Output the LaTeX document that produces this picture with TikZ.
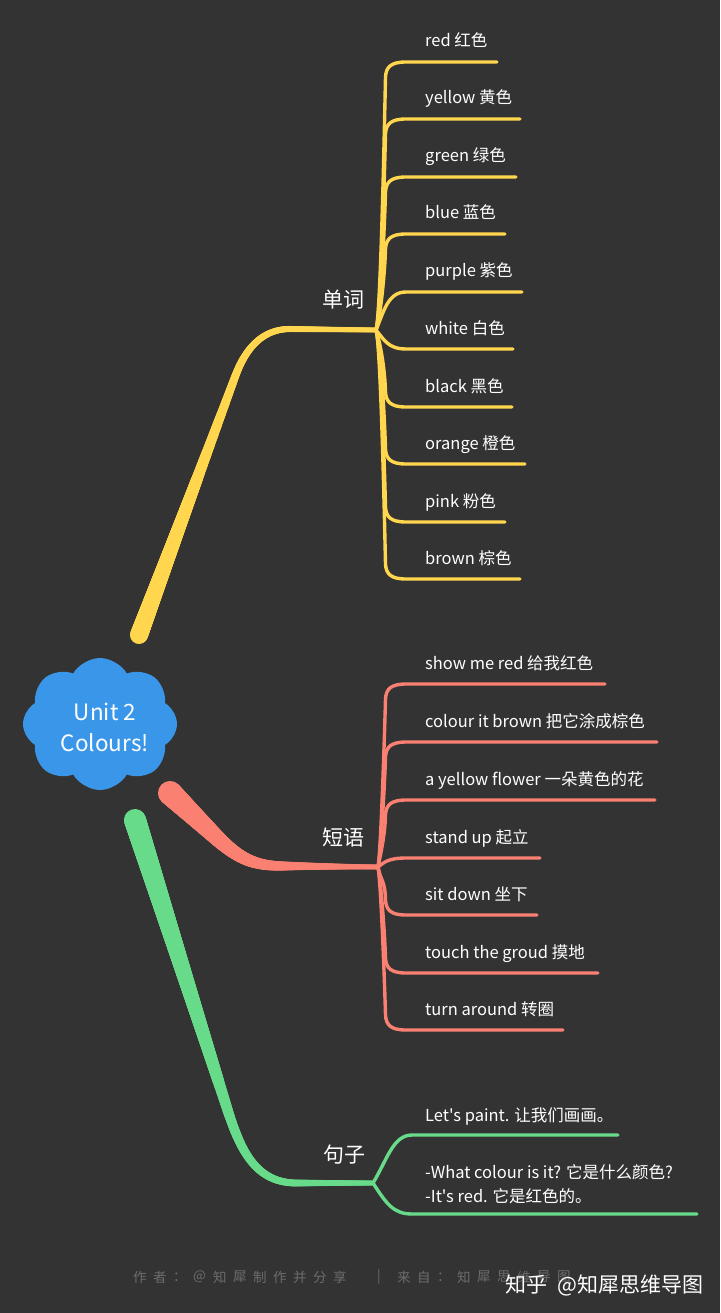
\documentclass[tikz,border=0pt]{standalone}
\usepackage{fontspec}
\setmainfont{Noto Sans CJK SC}
\newfontfamily\cjkf{Noto Sans CJK SC}
\usetikzlibrary{shapes.symbols,decorations.markings}
\definecolor{bg}{RGB}{51,51,51}
\definecolor{cy}{RGB}{255,214,77}
\definecolor{cs}{RGB}{250,128,114}
\definecolor{cg}{RGB}{104,219,138}
\definecolor{cb}{RGB}{58,150,232}
\definecolor{wm}{RGB}{108,108,108}
\tikzset{
  taper/.style n args={4}{decorate, decoration={markings,
    mark=between positions 0 and 1 step 0.7pt with {
      \pgfmathsetmacro\tf{max(0.0001,1-\pgfkeysvalueof{/pgf/decoration/mark info/distance from start}/\pgfdecoratedpathlength)}
      \pgfmathsetmacro\tr{(#2+(#1-#2)*pow(\tf,#3))/2}
      \fill[#4] (0pt,0pt) circle[radius=\tr pt];
    }}},
  leafy/.style={draw=cy, line width=3.4pt, line cap=round},
  leafs/.style={draw=cs, line width=3.4pt, line cap=round},
  leafg/.style={draw=cg, line width=3.4pt, line cap=round},
  leaftext/.style={text=white, inner sep=0pt, anchor=base west, font=\cjkf\fontsize{16.5}{20}\selectfont},
  cattext/.style={text=white, inner sep=0pt, font=\cjkf\fontsize{21}{24}\selectfont},
  roottext/.style={text=white, inner sep=0pt, font=\cjkf\fontsize{22.5}{26}\selectfont},
  wmtext/.style={text=wm, inner sep=0pt, anchor=west, font=\cjkf\fontsize{13.5}{16}\selectfont},
  zhtext/.style={text=white, inner sep=0pt, anchor=west, font=\cjkf\fontsize{21}{24}\selectfont},
}
\newcommand\myleaf[6]{%
  \coordinate (#6) at (#5,#4);
  \pgfmathsetmacro\ld{abs(#4-#3)}%
  \pgfmathsetmacro\ls{sign(#4-#3)}%
  \ifdim\ld pt<40pt
    \draw[#1] (#2) .. controls (384,{#3+\ls*\ld*0.5}) and (388,#4) .. (406,#4) -- (#6);
  \else
    \draw[#1] (#2) .. controls (381,{#3+\ls*15}) and (385,{#4-\ls*35}) .. (385.5,{#4-\ls*15}) .. controls (386,{#4-\ls*5}) and (391,#4) .. (406,#4) -- (#6);
  \fi
}
\begin{document}
\begin{tikzpicture}[x=1pt,y=-1pt]
\fill[bg] (0,0) rectangle (720,1313);
\useasboundingbox (0,0) rectangle (720,1313);

\coordinate (yS) at (139,635);
\coordinate (hubY) at (376,330);
\coordinate (sS) at (170,793);
\coordinate (hubS) at (378,867);
\coordinate (gS) at (135,820);
\coordinate (hubG) at (373,1183);

% main tapered branches
\path[taper={18}{5}{1.5}{cy}] (yS) -- (235,377) .. controls (244,352) and (260,329) .. (290,329) -- (hubY);
\path[taper={24}{5}{1.7}{cs}] (sS) -- (215,836) .. controls (240,860) and (255,866) .. (285,866) -- (hubS);
\path[taper={22}{5}{1.2}{cg}] (gS) -- (226,1105) .. controls (240,1150) and (255,1182) .. (295,1183) -- (hubG);

% yellow leaves
\foreach \y/\xe/\t [count=\i] in {62/497/red 红色, 119/520/yellow 黄色, 177/516/green 绿色, 234/505/blue 蓝色, 292/522/purple 紫色, 349/513/white 白色, 407/512/black 黑色, 464/525/orange 橙色, 522/505/pink 粉色, 579/520/brown 棕色}{
  \myleaf{leafy}{hubY}{330}{\y}{\xe}{ye\i}
  \node[leaftext] (yt\i) at (425,{\y-15}) {\t};
}

% salmon leaves
\foreach \y/\xe/\t [count=\i] in {684/605/show me red 给我红色, 742/657/colour it brown 把它涂成棕色, 800/655/a yellow flower 一朵黄色的花, 858/540/stand up 起立, 915/537/sit down 坐下, 973/598/touch the groud 摸地, 1030/563/turn around 转圈}{
  \myleaf{leafs}{hubS}{867}{\y}{\xe}{se\i}
  \node[leaftext] (st\i) at (425,{\y-15}) {\t};
}

% green leaves
\coordinate (gE1) at (618,1135);
\coordinate (gE2) at (697,1214);
\draw[leafg] (hubG) .. controls (387,1160) and (393,1135) .. (412,1135) -- (gE1);
\draw[leafg] (hubG) .. controls (386,1203) and (393,1214) .. (412,1214) -- (gE2);
\node[leaftext] (gt1) at (425,1121) {Let's paint. 让我们画画。};
\node[leaftext] (gt2) at (425,1178) {-What colour is it? 它是什么颜色?};
\node[leaftext] (gt3) at (425,1202) {-It's red. 它是红色的。};

% category labels
\node[cattext] (cat1) at (343,300) {单词};
\node[cattext] (cat2) at (343,838) {短语};
\node[cattext] (cat3) at (344,1155) {句子};

% root cloud
\node[cloud, cloud puffs=8, cloud puff arc=120, aspect=1.15, fill=cb, draw=none,
      minimum width=154pt, minimum height=132pt, inner sep=0pt] (root) at (100,724) {};
\node[roottext] (r1) at (105,712) {Unit 2};
\node[roottext] (r2) at (105,743) {Colours!};

% watermark
\foreach \c [count=\i from 0] in {作,者,：,@,知,犀,制,作,并,分,享}{
  \node[wmtext] (wa\i) at ({133+20*\i},1277) {\c};
}
\node[wmtext, anchor=center] (wbar) at (379,1277) {|};
\foreach \c [count=\i from 0] in {来,自,：,知,犀,思,维,导,图}{
  \node[wmtext] (wb\i) at ({397+20*\i},1277) {\c};
}
\node[zhtext] (zh1) at (505,1285) {知乎};
\node[zhtext] (zh2) at (557,1285) {@知犀思维导图};
\end{tikzpicture}
\end{document}
